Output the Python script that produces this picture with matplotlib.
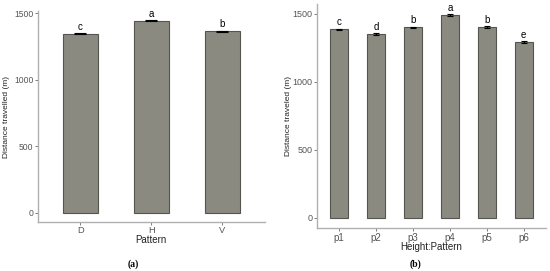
import matplotlib.pyplot as plt
import numpy as np

# panel (a): distance by pattern
patterns = ["D", "H", "V"]
dist_a = [1346, 1444, 1364]
err_a = [4, 4, 5]
letters_a = ["c", "a", "b"]

# panel (b): distance by height:pattern
groups = ["p1", "p2", "p3", "p4", "p5", "p6"]
dist_b = [1385, 1351, 1400, 1490, 1402, 1292]
err_b = [5, 4, 5, 5, 5, 6]
letters_b = ["c", "d", "b", "a", "b", "e"]

W, H = 550, 271
plt.rcParams["font.family"] = ["Liberation Sans", "DejaVu Sans"]
fig = plt.figure(figsize=(5.5, 2.71), dpi=100)

barcol = "#8a8a80"
edgecol = "#555550"
axcol = "#b0b0b0"
txtcol = "#222222"


def panel(px, cats, vals, errs, lets, ylim, xlabel, ylabel, ew,
          tsize, ylab_x, ylab_size, xlab_y):
    x0, x1, ytop, ybot = px
    ax = fig.add_axes([x0 / W, 1 - ybot / H, (x1 - x0) / W, (ybot - ytop) / H])
    x = np.arange(1, len(cats) + 1)
    ax.bar(x, vals, width=0.5, color=barcol, edgecolor=edgecol, linewidth=0.8)
    ax.errorbar(x, vals, yerr=errs, fmt="none", ecolor="black",
                elinewidth=0.8, capsize=ew, capthick=0.8)
    for xi, v, e, l in zip(x, vals, errs, lets):
        ax.text(xi, v + e + 10, l, ha="center", va="bottom",
                fontsize=7, color="black")
    ax.set_xlim(0.4, len(cats) + 0.6)
    ax.set_ylim(*ylim)
    ax.set_xticks(x)
    ax.set_xticklabels(cats)
    ax.set_yticks([0, 500, 1000, 1500])
    for s in ["top", "right"]:
        ax.spines[s].set_visible(False)
    for s in ["left", "bottom"]:
        ax.spines[s].set_color(axcol)
        ax.spines[s].set_linewidth(1.0)
    ax.tick_params(colors="#666666", labelcolor="#555555", labelsize=tsize,
                   length=2, width=0.6, pad=1)
    ax.tick_params(axis="x", labelsize=tsize + 0.5, pad=1.2)
    ax.set_xlabel(xlabel, fontsize=7, color=txtcol)
    ax.set_ylabel(ylabel, fontsize=ylab_size, color=txtcol)
    ax.yaxis.set_label_coords((ylab_x - x0) / (x1 - x0), 0.5)
    ax.xaxis.set_label_coords(0.5, -(xlab_y - ybot) / (ybot - ytop))
    ax.xaxis.label.set_va("center")
    ax.yaxis.label.set_va("center")
    return ax


panel((37.7, 265, 11, 222), patterns, dist_a, err_a, letters_a,
      (-70, 1517), "Pattern", "Distance travelled (m)", 4,
      6.2, 7, 6.0, 240)
panel((316.7, 546, 3.9, 228.3), groups, dist_b, err_b, letters_b,
      (-78, 1572), "Height:Pattern", "Distance traveled (m)", 2.5,
      6.5, 288, 6.0, 247.5)

fig.text(133 / W, 1 - 264 / H, "(a)", ha="center", va="center",
         fontsize=7, fontweight="bold", family="Liberation Serif")
fig.text(415 / W, 1 - 264 / H, "(b)", ha="center", va="center",
         fontsize=7, fontweight="bold", family="Liberation Serif")

fig.savefig("out.png", dpi=100)
